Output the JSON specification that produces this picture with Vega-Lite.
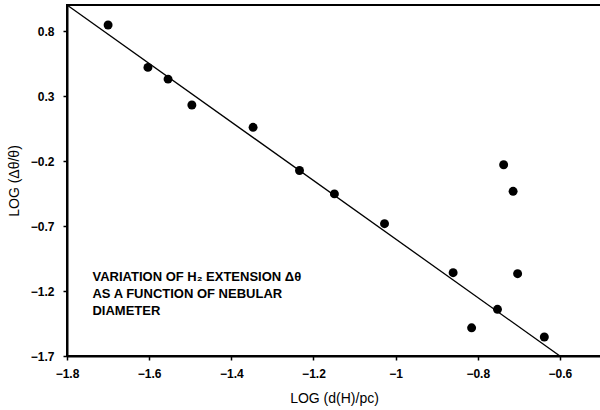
{
  "$schema": "https://vega.github.io/schema/vega-lite/v6.json",
  "width": 534,
  "height": 351,
  "autosize": {"type": "none"},
  "padding": {"left": 67, "top": 5, "right": 0, "bottom": 54},
  "background": "white",
  "config": {
    "font": "Liberation Sans",
    "view": {"stroke": "black", "strokeWidth": 2},
    "axis": {
      "grid": false,
      "domainColor": "black",
      "domainWidth": 2,
      "tickColor": "black",
      "tickWidth": 1.5,
      "tickSize": 4,
      "labelFont": "Liberation Sans",
      "labelFontWeight": "bold",
      "labelFontSize": 12,
      "labelColor": "black",
      "labelFlush": false,
      "format": "~g",
      "titleFont": "Liberation Sans",
      "titleFontWeight": "normal",
      "titleFontSize": 14,
      "titleColor": "black"
    }
  },
  "datasets": {
    "points": [
      {"x": -1.700, "y": 0.846},
      {"x": -1.603, "y": 0.520},
      {"x": -1.554, "y": 0.430},
      {"x": -1.496, "y": 0.231},
      {"x": -1.347, "y": 0.059},
      {"x": -1.234, "y": -0.273},
      {"x": -1.149, "y": -0.453},
      {"x": -1.027, "y": -0.682},
      {"x": -0.860, "y": -1.059},
      {"x": -0.815, "y": -1.483},
      {"x": -0.752, "y": -1.341},
      {"x": -0.737, "y": -0.229},
      {"x": -0.714, "y": -0.433},
      {"x": -0.703, "y": -1.067},
      {"x": -0.638, "y": -1.554}
    ],
    "fit": [
      {"x": -1.8, "y": 1.0},
      {"x": -0.6, "y": -1.7}
    ],
    "note": [
      {"x": -1.738, "y": -1.046, "label": ["VARIATION OF H₂ EXTENSION Δθ", "AS A FUNCTION OF NEBULAR", "DIAMETER"]}
    ]
  },
  "layer": [
    {
      "data": {"name": "fit"},
      "mark": {"type": "line", "color": "black", "strokeWidth": 1.3, "clip": true},
      "encoding": {
        "x": {"field": "x", "type": "quantitative", "scale": {"domain": [-1.8, -0.5], "nice": false, "zero": false},
          "axis": {"values": [-1.8, -1.6, -1.4, -1.2, -1, -0.8, -0.6], "title": "LOG (d(H)/pc)", "labelPadding": 8, "titlePadding": 12}},
        "y": {"field": "y", "type": "quantitative", "scale": {"domain": [-1.7, 1.0], "nice": false, "zero": false},
          "axis": {"values": [-1.7, -1.2, -0.7, -0.2, 0.3, 0.8], "title": "LOG (Δθ/θ)", "labelPadding": 9, "titlePadding": 9}}
      }
    },
    {
      "data": {"name": "points"},
      "mark": {"type": "circle", "color": "black", "opacity": 1, "size": 80},
      "encoding": {
        "x": {"field": "x", "type": "quantitative"},
        "y": {"field": "y", "type": "quantitative"}
      }
    },
    {
      "data": {"name": "note"},
      "mark": {"type": "text", "align": "left", "baseline": "top", "fontWeight": "bold", "fontSize": 13, "lineHeight": 17, "color": "black", "font": "Liberation Sans"},
      "encoding": {
        "x": {"field": "x", "type": "quantitative"},
        "y": {"field": "y", "type": "quantitative"},
        "text": {"field": "label"}
      }
    }
  ]
}
